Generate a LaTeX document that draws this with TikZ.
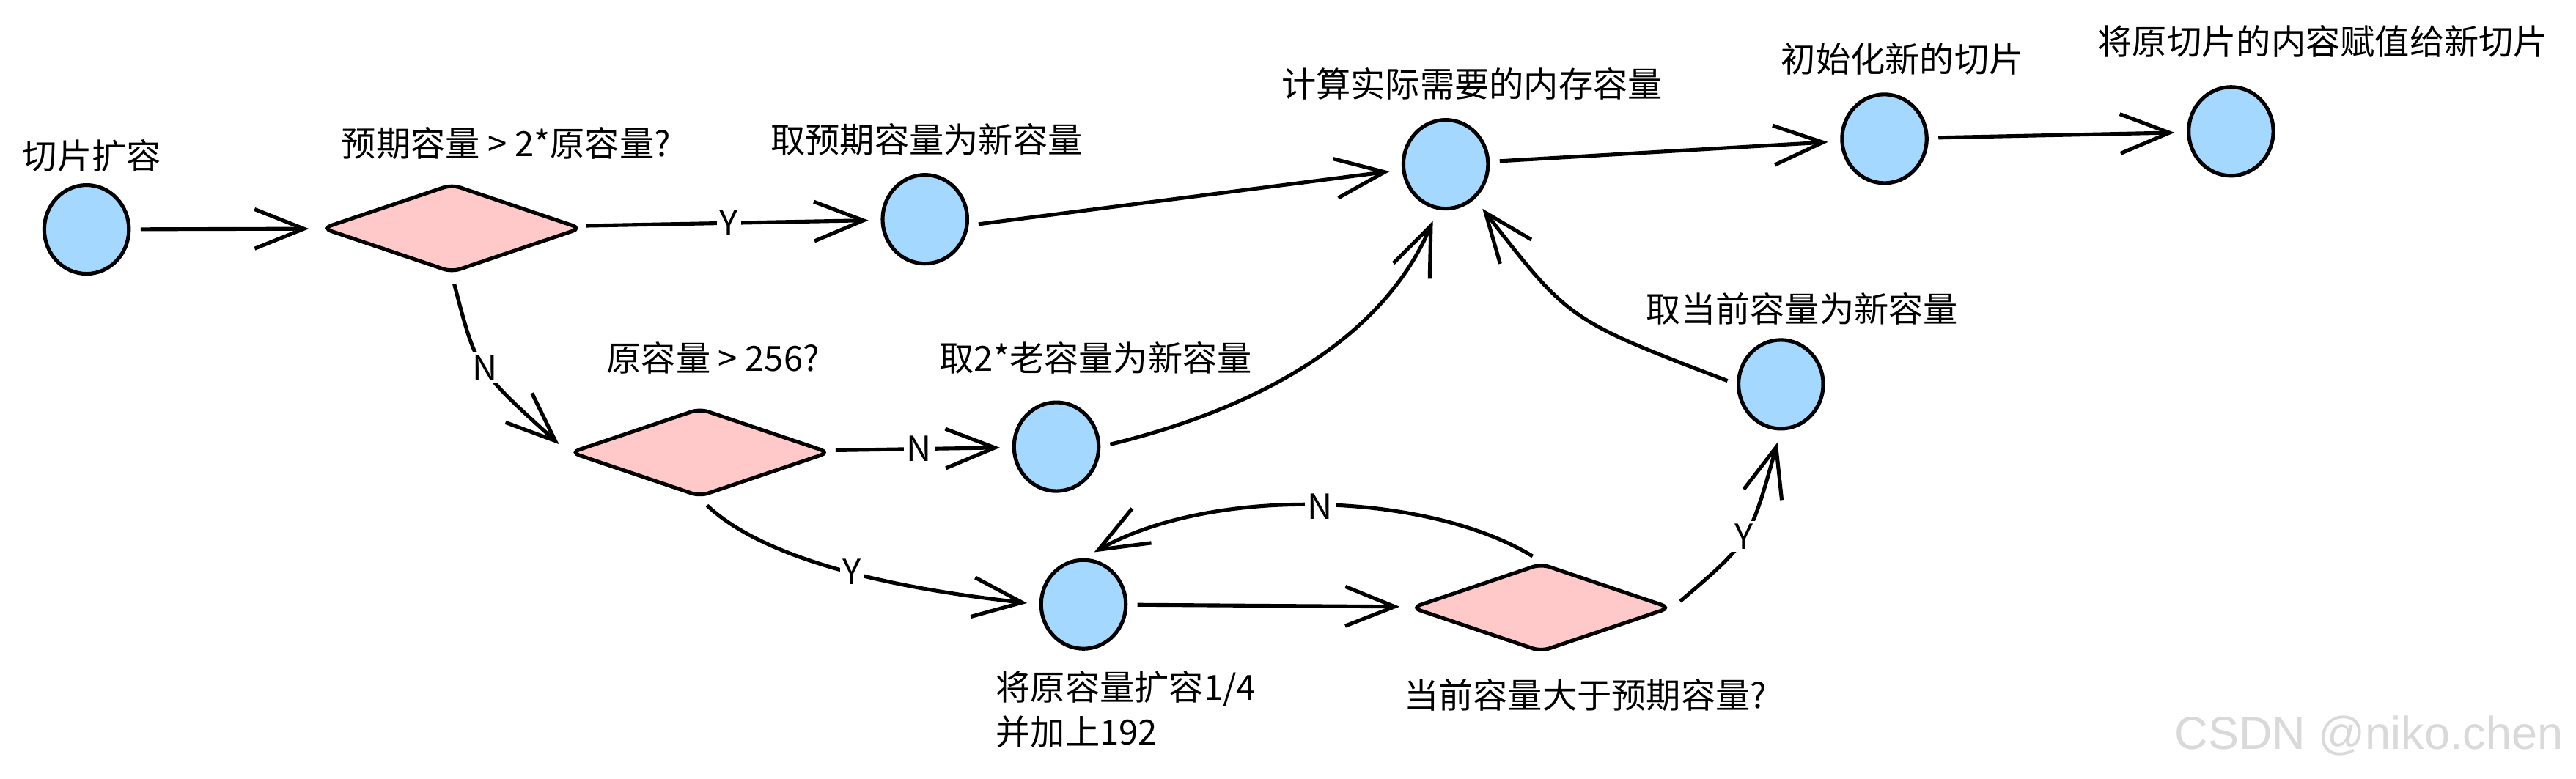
\documentclass[tikz,border=0pt]{standalone}
\usepackage{fontspec}
\setmainfont{Noto Sans CJK SC}
\newfontfamily\wmfont{Liberation Sans}
\usetikzlibrary{arrows.meta,shapes.geometric}
\definecolor{dotblue}{HTML}{A5D8FF}
\definecolor{askpink}{HTML}{FFC9C9}

\begin{document}
\begin{tikzpicture}[x=0.2mm, y=-0.2mm,
  dot/.style = {ellipse, draw, line width=1.3pt, fill=dotblue, minimum width=10.3mm, minimum height=10.8mm, inner sep=0pt},
  ask/.style = {diamond, draw, line width=1.3pt, fill=askpink, rounded corners=3pt, minimum width=31.6mm, minimum height=10.8mm, inner sep=0pt},
  txt/.style = {font=\fontsize{12}{15.5}\selectfont},
  flow/.style = {line width=1.3pt, -{Straight Barb[length=6mm,width=4.8mm]}, shorten <=1.2mm, shorten >=1.5mm},
  yn/.style = {fill=white, inner sep=1pt, font=\fontsize{12}{14}\selectfont}]
\useasboundingbox (0,0) rectangle (1568,474);
% shapes
\path (52.7,139.7) node[dot] (S) {};
\path (275,139) node[ask] (D1) {};
\path (563,133.5) node[dot] (C2) {};
\path (880,100) node[dot] (C3) {};
\path (1147,84.5) node[dot] (C4) {};
\path (1358,80) node[dot] (C5) {};
\path (426,275.5) node[ask] (D2) {};
\path (643,272) node[dot] (C6) {};
\path (659.5,368) node[dot] (C7) {};
\path (938,370) node[ask] (D3) {};
\path (1084,234) node[dot] (C8) {};
% texts
\path (56,95) node[txt] (LS) {切片扩容};
\path (308,87) node[txt] (LD1) {预期容量 > 2*原容量?};
\path (564,85) node[txt] (LC2) {取预期容量为新容量};
\path (896,51) node[txt] (LC3) {计算实际需要的内存容量};
\path (1158,36) node[txt] (LC4) {初始化新的切片};
\path (1414,25) node[txt] (LC5) {将原切片的内容赋值给新切片};
\path (434,218) node[txt] (LD2) {原容量 > 256?};
\path (667,218) node[txt] (LC6) {取2*老容量为新容量};
\path (600,432) node[txt, anchor=west, align=left] (LC7) {将原容量扩容1/4\\并加上192};
\path (965,423) node[txt] (LD3) {当前容量大于预期容量?};
\path (1097,188) node[txt] (LC8) {取当前容量为新容量};
\path (1442,448) node[font=\wmfont\fontsize{16}{18}\selectfont, text=black!15] (WM) {CSDN @niko.chen};
% arrows
\draw[flow] (S) -- (D1);
\draw[flow] (D1) -- node[yn] {Y} (C2);
\draw[flow] (D1.south) .. controls (290,225) .. node[yn] {N} (D2.west);
\draw[flow] (C2.-8) -- (C3);
\draw[flow] (D2) -- node[yn] {N} (C6);
\draw[flow] (C6.east) .. controls (760,250) and (840,210) .. (C3.-100);
\draw[flow] (D2.south) .. controls (470,345) and (560,360) .. node[yn] {Y} (C7.west);
\draw[flow] (C7) -- (D3);
\draw[flow] (D3.north) .. controls (870,300) and (740,295) .. node[yn] {N} (C7.north);
\draw[flow] (D3.east) .. controls (1065,330) .. node[yn] {Y} (C8.south);
\draw[flow] (C8.west) .. controls (955,195) .. (C3.-50);
\draw[flow] (C3) -- (C4);
\draw[flow] (C4) -- (C5);
\end{tikzpicture}
\end{document}
